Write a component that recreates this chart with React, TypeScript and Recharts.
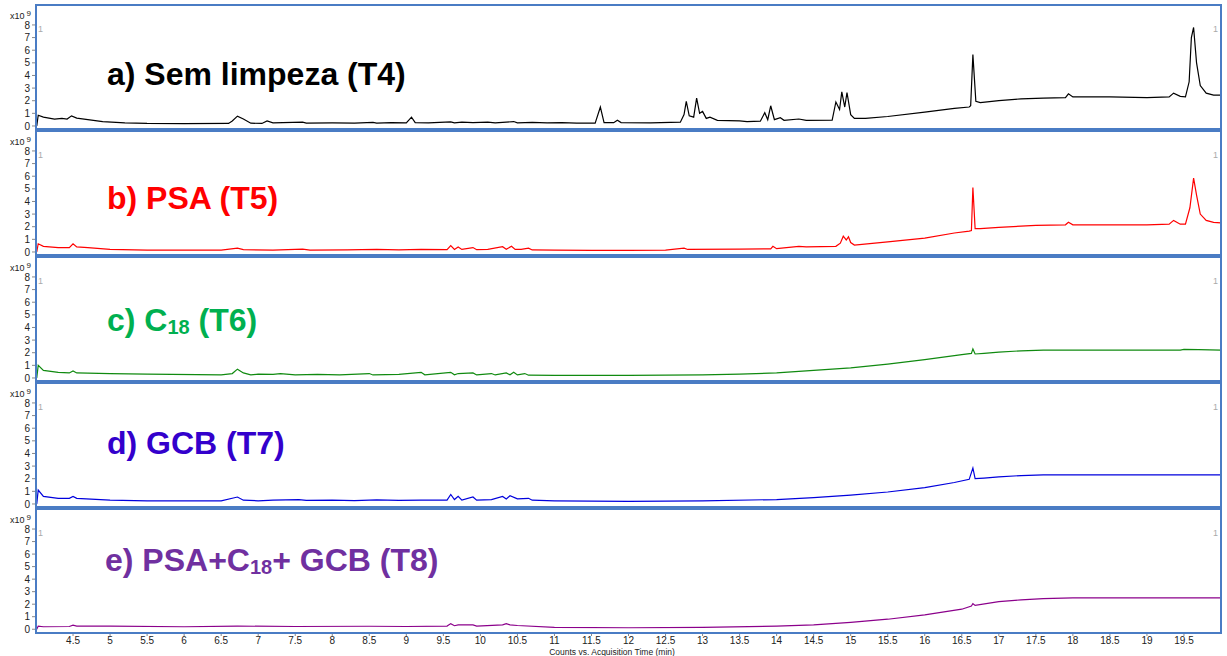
import React from 'react';
import { LineChart, Line, XAxis, YAxis } from 'recharts';

// [tempo (min), contagens x10^9]
const semLimpeza: [number, number][] = [
  [4.01, 0], [4.03, 0.85], [4.1, 0.7], [4.25, 0.55], [4.35, 0.6], [4.42, 0.55], [4.48, 0.8], [4.55, 0.62],
  [4.7, 0.5], [4.9, 0.35], [5.2, 0.25], [5.5, 0.2], [6.0, 0.19], [6.6, 0.2], [6.65, 0.4], [6.72, 0.78],
  [6.8, 0.55], [6.9, 0.22], [7.05, 0.2], [7.12, 0.4], [7.2, 0.24], [7.6, 0.3], [7.65, 0.22], [8.0, 0.24],
  [8.3, 0.22], [8.55, 0.28], [8.6, 0.22], [8.8, 0.26], [9.0, 0.24], [9.07, 0.7], [9.12, 0.26], [9.3, 0.24],
  [9.6, 0.32], [9.65, 0.24], [9.75, 0.3], [9.9, 0.26], [10.1, 0.3], [10.2, 0.24], [10.45, 0.35], [10.5, 0.25],
  [10.7, 0.28], [10.9, 0.24], [11.1, 0.26], [11.3, 0.22], [11.55, 0.22], [11.62, 1.5], [11.67, 0.26],
  [11.8, 0.26], [11.85, 0.45], [11.9, 0.27], [12.3, 0.25], [12.7, 0.3], [12.75, 0.9], [12.78, 1.95],
  [12.82, 0.8], [12.88, 0.7], [12.92, 2.2], [12.96, 1.0], [13.0, 1.15], [13.05, 0.6], [13.1, 0.7],
  [13.2, 0.45], [13.35, 0.42], [13.5, 0.4], [13.6, 0.35], [13.78, 0.38], [13.84, 1.05], [13.88, 0.5],
  [13.92, 1.6], [13.97, 0.5], [14.05, 0.65], [14.1, 0.45], [14.3, 0.55], [14.4, 0.45], [14.75, 0.47],
  [14.8, 1.9], [14.85, 1.3], [14.88, 2.7], [14.92, 1.5], [14.95, 2.65], [15.0, 0.9], [15.05, 0.6],
  [15.2, 0.6], [15.5, 0.75], [16.0, 1.1], [16.4, 1.4], [16.6, 1.5], [16.62, 1.6], [16.65, 5.65],
  [16.69, 1.95], [16.75, 1.85], [17.0, 2.0], [17.3, 2.15], [17.6, 2.2], [17.9, 2.25], [17.94, 2.55],
  [18.0, 2.3], [18.5, 2.3], [19.0, 2.25], [19.3, 2.3], [19.36, 2.6], [19.45, 2.35], [19.52, 2.3],
  [19.57, 3.5], [19.6, 7.0], [19.63, 7.8], [19.67, 5.0], [19.72, 3.2], [19.8, 2.6], [19.9, 2.45], [20.0, 2.45],
];

const psa: [number, number][] = [
  [4.01, 0], [4.03, 0.65], [4.1, 0.45], [4.3, 0.35], [4.45, 0.35], [4.5, 0.65], [4.55, 0.4], [4.7, 0.35],
  [5.0, 0.2], [5.5, 0.15], [6.5, 0.15], [6.72, 0.3], [6.8, 0.18], [7.2, 0.15], [7.6, 0.22], [7.7, 0.15],
  [8.2, 0.16], [8.6, 0.2], [8.9, 0.17], [9.2, 0.2], [9.55, 0.18], [9.6, 0.5], [9.65, 0.2], [9.7, 0.4],
  [9.75, 0.2], [9.9, 0.35], [9.95, 0.18], [10.1, 0.2], [10.3, 0.42], [10.35, 0.22], [10.42, 0.45],
  [10.47, 0.2], [10.55, 0.2], [10.65, 0.3], [10.7, 0.16], [11.0, 0.15], [11.5, 0.13], [12.0, 0.13],
  [12.5, 0.15], [12.75, 0.3], [12.8, 0.2], [13.5, 0.22], [13.92, 0.25], [13.95, 0.45], [14.0, 0.26],
  [14.3, 0.45], [14.4, 0.4], [14.8, 0.45], [14.86, 0.7], [14.9, 1.25], [14.94, 0.95], [14.97, 1.2],
  [15.0, 0.75], [15.05, 0.55], [15.5, 0.8], [16.0, 1.1], [16.4, 1.5], [16.6, 1.65], [16.63, 1.7],
  [16.65, 5.1], [16.68, 1.85], [16.75, 1.85], [17.0, 1.95], [17.5, 2.1], [17.9, 2.15], [17.94, 2.35],
  [18.0, 2.15], [19.0, 2.15], [19.3, 2.2], [19.36, 2.5], [19.45, 2.2], [19.52, 2.2], [19.58, 3.5],
  [19.63, 5.85], [19.67, 4.5], [19.72, 3.0], [19.8, 2.5], [19.9, 2.35], [20.0, 2.3],
];

const c18: [number, number][] = [
  [4.01, 0], [4.03, 1.0], [4.1, 0.6], [4.3, 0.45], [4.45, 0.4], [4.5, 0.55], [4.55, 0.4], [5.0, 0.35],
  [5.5, 0.3], [6.5, 0.25], [6.65, 0.35], [6.72, 0.7], [6.8, 0.4], [6.9, 0.25], [7.0, 0.3], [7.2, 0.28],
  [7.3, 0.35], [7.5, 0.25], [7.8, 0.28], [8.1, 0.24], [8.5, 0.35], [8.55, 0.24], [8.9, 0.28], [9.2, 0.45],
  [9.25, 0.25], [9.6, 0.45], [9.65, 0.25], [9.7, 0.35], [9.9, 0.4], [9.95, 0.24], [10.15, 0.35],
  [10.2, 0.24], [10.35, 0.4], [10.4, 0.25], [10.45, 0.45], [10.5, 0.24], [10.6, 0.35], [10.65, 0.22],
  [11.0, 0.2], [12.0, 0.2], [13.0, 0.25], [13.5, 0.3], [14.0, 0.4], [14.5, 0.6], [15.0, 0.8], [15.5, 1.1],
  [16.0, 1.45], [16.5, 1.85], [16.63, 1.95], [16.65, 2.3], [16.68, 1.9], [16.8, 1.95], [17.0, 2.05],
  [17.3, 2.15], [17.6, 2.2], [18.0, 2.2], [19.0, 2.2], [19.45, 2.2], [19.5, 2.27], [19.7, 2.25], [20.0, 2.2],
];

const gcb: [number, number][] = [
  [4.01, 0], [4.03, 1.1], [4.1, 0.6], [4.3, 0.45], [4.45, 0.45], [4.5, 0.6], [4.55, 0.45], [5.0, 0.3],
  [5.5, 0.25], [6.5, 0.25], [6.72, 0.55], [6.8, 0.3], [7.0, 0.25], [7.2, 0.3], [7.55, 0.35], [7.65, 0.28],
  [8.0, 0.3], [8.3, 0.26], [8.6, 0.32], [8.9, 0.28], [9.2, 0.3], [9.55, 0.3], [9.6, 0.75], [9.65, 0.35],
  [9.7, 0.6], [9.75, 0.3], [9.9, 0.55], [9.95, 0.3], [10.15, 0.35], [10.3, 0.6], [10.35, 0.4],
  [10.4, 0.65], [10.5, 0.4], [10.65, 0.45], [10.7, 0.3], [11.0, 0.25], [12.0, 0.2], [13.0, 0.25],
  [14.0, 0.35], [14.5, 0.5], [15.0, 0.7], [15.5, 0.95], [16.0, 1.3], [16.4, 1.7], [16.6, 1.95],
  [16.65, 2.85], [16.68, 2.0], [16.8, 2.05], [17.0, 2.15], [17.3, 2.25], [17.6, 2.3], [18.0, 2.3], [20.0, 2.3],
];

const combinado: [number, number][] = [
  [4.01, 0], [4.03, 0.25], [4.1, 0.2], [4.45, 0.22], [4.5, 0.32], [4.55, 0.25], [5.0, 0.25], [6.0, 0.2],
  [6.72, 0.25], [7.5, 0.22], [8.5, 0.24], [9.0, 0.22], [9.55, 0.25], [9.6, 0.45], [9.65, 0.28], [9.7, 0.35],
  [9.9, 0.35], [9.95, 0.25], [10.3, 0.35], [10.35, 0.45], [10.4, 0.35], [10.5, 0.3], [11.0, 0.15],
  [12.0, 0.12], [13.0, 0.15], [14.0, 0.25], [14.5, 0.35], [15.0, 0.55], [15.5, 0.8], [16.0, 1.15],
  [16.5, 1.6], [16.63, 1.85], [16.65, 2.05], [16.68, 1.9], [17.0, 2.2], [17.3, 2.35], [17.6, 2.45],
  [18.0, 2.5], [20.0, 2.5],
];

const xTicks = [4.5, 5, 5.5, 6, 6.5, 7, 7.5, 8, 8.5, 9, 9.5, 10, 10.5, 11, 11.5, 12, 12.5, 13, 13.5, 14, 14.5, 15, 15.5, 16, 16.5, 17, 17.5, 18, 18.5, 19, 19.5];
const yTicks = [0, 1, 2, 3, 4, 5, 6, 7, 8];

const panels = [
  { top: 5, data: semLimpeza, color: '#000000', domain: [-0.24, 9.58] },
  { top: 131, data: psa, color: '#ff0000', domain: [-0.24, 9.58] },
  { top: 257, data: c18, color: '#108a10', domain: [-0.24, 9.58] },
  { top: 383, data: gcb, color: '#0000dd', domain: [-0.24, 9.58] },
  { top: 509, data: combinado, color: '#8b008b', domain: [-0.3, 9.6] },
];

const FONT = 'Liberation Sans, Arial, sans-serif';
const BORDER = '#4a7cc4';

function Panel({ top, data, color, domain, showX }: any) {
  const rows = data.map(([t, v]: [number, number]) => ({ t, v }));
  return (
    <div style={{ position: 'absolute', left: 0, top }}>
      <LineChart
        width={1227}
        height={showX ? 142 : 130}
        data={rows}
        margin={{ top: 0, right: 6, bottom: showX ? 0 : 6, left: 0 }}
      >
        <XAxis
          dataKey="t"
          type="number"
          domain={[4, 20]}
          ticks={xTicks}
          interval={0}
          allowDataOverflow
          hide={!showX}
          height={18}
          tickSize={3}
          tickMargin={1}
          stroke="#888"
          tick={{ fontSize: 10, fill: '#222', fontFamily: FONT }}
        />
        <YAxis
          type="number"
          domain={domain}
          ticks={yTicks}
          interval={0}
          allowDataOverflow
          width={36}
          tickSize={4}
          stroke="#888"
          tick={{ fontSize: 10, fill: '#222', fontFamily: FONT }}
        />
        <Line type="linear" dataKey="v" stroke={color} strokeWidth={1.2} dot={false} isAnimationActive={false} />
      </LineChart>
    </div>
  );
}

const titles = [
  { y: 85, color: '#000000', parts: ['a) Sem limpeza (T4)'] },
  { y: 209, color: '#ff0000', parts: ['b) PSA (T5)'] },
  { y: 331, color: '#00b050', parts: ['c) C', '18', ' (T6)'] },
  { y: 454, color: '#3300cc', parts: ['d) GCB (T7)'] },
  { y: 571, color: '#7030a0', parts: ['e) PSA+C', '18', '+ GCB (T8)'] },
];

export default function App() {
  return (
    <div style={{ position: 'absolute', left: 0, top: 0, width: 1227, height: 656, background: '#fff', fontFamily: FONT }}>
      {panels.map((p, i) => (
        <Panel key={i} {...p} showX={i === panels.length - 1} />
      ))}
      {panels.map((p, i) => (
        <div
          key={'b' + i}
          style={{
            position: 'absolute',
            left: 35,
            top: p.top - 1,
            width: 1187,
            height: 126,
            border: `2px solid ${BORDER}`,
            boxSizing: 'border-box',
            pointerEvents: 'none',
          }}
        />
      ))}
      <svg width={1227} height={656} style={{ position: 'absolute', left: 0, top: 0, pointerEvents: 'none' }}>
        {panels.map((p, i) => (
          <g key={i}>
            <text x={10} y={p.top + 14} fontSize={9} fill="#222" fontFamily={FONT}>
              x10
              <tspan dx={2} dy={-3} fontSize={8}>9</tspan>
            </text>
            <text x={38} y={p.top + 27} fontSize={9} fill="#aaa" fontFamily={FONT}>1</text>
            <text x={1213} y={p.top + 27} fontSize={9} fill="#aaa" fontFamily={FONT}>1</text>
          </g>
        ))}
        {titles.map((t, i) => (
          <text key={i} x={i === 4 ? 105 : 107} y={t.y} fontSize={32} fontWeight="bold" fill={t.color} fontFamily={FONT}>
            {t.parts.map((s, j) =>
              j % 2 === 1 ? (
                <tspan key={j} fontSize={20} dy={3}>{s}</tspan>
              ) : (
                <tspan key={j} dy={j === 0 ? 0 : -3}>{s}</tspan>
              )
            )}
          </text>
        ))}
        <text x={612} y={655} fontSize={8.5} fill="#222" textAnchor="middle" fontFamily={FONT}>
          Counts vs. Acquisition Time (min)
        </text>
      </svg>
    </div>
  );
}
